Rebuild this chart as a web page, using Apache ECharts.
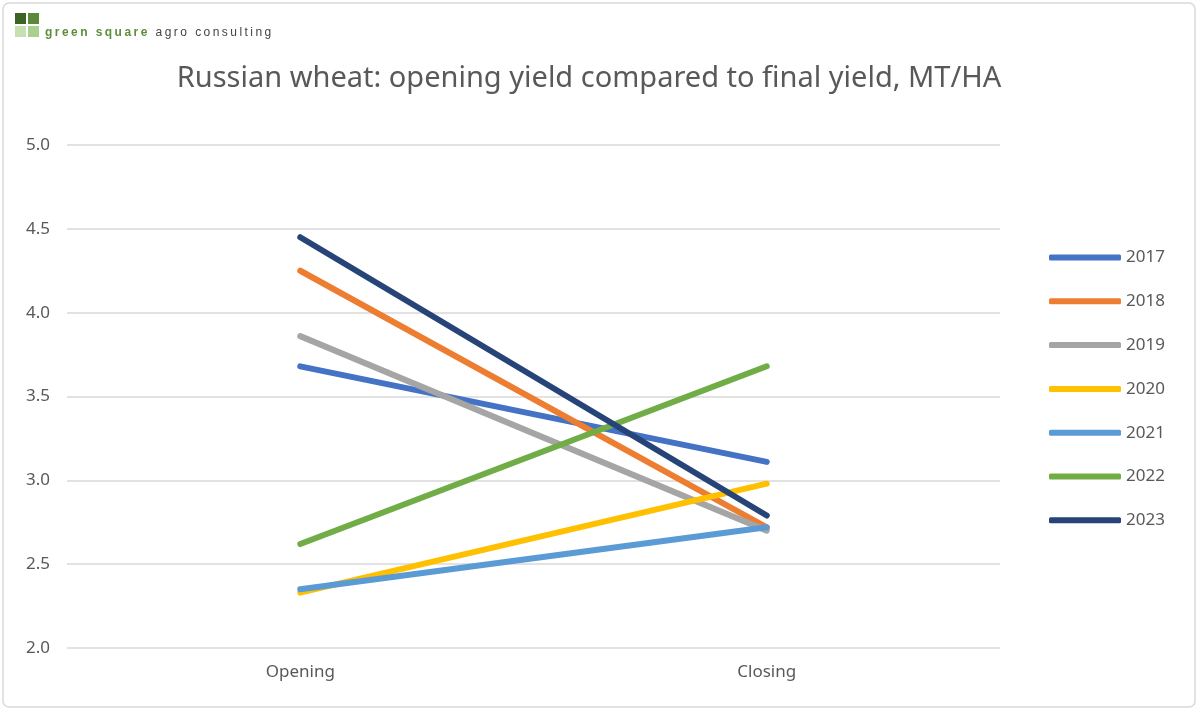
<!DOCTYPE html>
<html><head><meta charset="utf-8">
<script src="https://cdn.jsdelivr.net/npm/echarts@6/dist/echarts.min.js"></script>
<style>
html,body{margin:0;padding:0;background:#fff;}
#wrap{position:relative;width:1200px;height:711px;}
#chart{width:1200px;height:711px;}
#logo{position:absolute;left:45px;top:25px;font-family:"Liberation Sans",Arial,sans-serif;font-size:12px;letter-spacing:2.45px;color:#444;white-space:nowrap;}
#logo b{font-weight:bold;color:#5b8f3b;}
</style></head>
<body><div id="wrap"><div id="chart"></div><div id="logo"><b>green square</b> agro consulting</div></div>
<script>
var categories = ['Opening', 'Closing'];
var years = ['2017', '2018', '2019', '2020', '2021', '2022', '2023'];
var v2017 = [3.68, 3.11];
var v2018 = [4.25, 2.72];
var v2019 = [3.86, 2.70];
var v2020 = [2.33, 2.98];
var v2021 = [2.35, 2.72];
var v2022 = [2.62, 3.68];
var v2023 = [4.45, 2.79];
var yTicks = {min: 2.0, max: 5.0, interval: 0.5};
var colors = ['#4472C4', '#ED7D31', '#A5A5A5', '#FFC000', '#5B9BD5', '#70AD47', '#264478'];

var values = [v2017, v2018, v2019, v2020, v2021, v2022, v2023];
var font = '"Noto Sans", "Open Sans", sans-serif';
var chart = echarts.init(document.getElementById('chart'), null, {renderer: 'canvas'});
chart.setOption({
  animation: false,
  color: colors,
  title: {
    text: 'Russian wheat: opening yield compared to final yield, MT/HA',
    left: 584, top: 59, textAlign: 'center',
    textStyle: {fontFamily: font, fontSize: 29, fontWeight: 'normal', color: '#595959'}
  },
  grid: {left: 67, right: 200, top: 145, bottom: 63, containLabel: false},
  legend: {
    orient: 'vertical', left: 1044, top: 244, itemGap: 26.8,
    itemWidth: 72, itemHeight: 6,
    icon: 'roundRect',
    textStyle: {fontFamily: font, fontSize: 17, color: '#595959'},
    data: years
  },
  xAxis: {
    type: 'category', data: categories, boundaryGap: true,
    axisLine: {show: false}, axisTick: {show: false},
    axisLabel: {fontFamily: font, fontSize: 17, color: '#595959', margin: 16}
  },
  yAxis: {
    type: 'value', min: yTicks.min, max: yTicks.max, interval: yTicks.interval,
    axisLine: {show: false}, axisTick: {show: false},
    axisLabel: {fontFamily: font, fontSize: 17, color: '#595959', margin: 17,
      formatter: function (v) { return v.toFixed(1); }},
    splitLine: {lineStyle: {color: '#D9D9D9', width: 1.5}}
  },
  series: years.map(function (y, i) {
    return {
      name: y, type: 'line', data: values[i],
      showSymbol: false, symbol: 'none',
      lineStyle: {width: 6, cap: 'round', join: 'round', color: colors[i]},
      itemStyle: {color: colors[i]}
    };
  }),
  graphic: [
    {type: 'rect', shape: {x: 3, y: 3, width: 1192, height: 704, r: 6}, style: {fill: 'none', stroke: '#D9D9D9', lineWidth: 1.5}, silent: true},
    {type: 'rect', shape: {x: 15, y: 13, width: 11, height: 11}, style: {fill: '#3B6426'}},
    {type: 'rect', shape: {x: 28, y: 13, width: 11, height: 11}, style: {fill: '#5A8A39'}},
    {type: 'rect', shape: {x: 15, y: 26, width: 11, height: 11}, style: {fill: '#C6E0B4'}},
    {type: 'rect', shape: {x: 28, y: 26, width: 11, height: 11}, style: {fill: '#A9D08E'}}
  ]
});
</script></body></html>
